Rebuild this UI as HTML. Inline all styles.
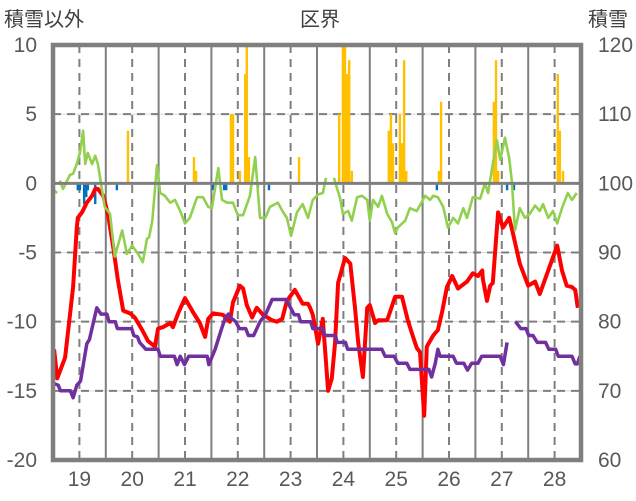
<!DOCTYPE html>
<html><head><meta charset="utf-8"><style>
html,body{margin:0;padding:0;background:#fff;}
svg{display:block;font-family:"Liberation Sans","Noto Sans CJK JP",sans-serif;}
</style></head><body>
<svg id="chart" width="636" height="501" viewBox="0 0 636 501">
<text x="4" y="26" font-size="20" fill="#404040">積雪以外</text>
<text x="320" y="26" font-size="20" fill="#404040" text-anchor="middle">区界</text>
<text x="588" y="26" font-size="20" fill="#404040">積雪</text>
<g id="grid"></g><g id="bars"></g><g id="lines"></g><g id="axes"></g>
</svg>
<script>
const leftTicks=[10,5,0,-5,-10,-15,-20];
const rightTicks=[120,110,100,90,80,70,60];
const yearLabels=["19","20","21","22","23","24","25","26","27","28"];
const yearCenters=[19,20,21,22,23,24,25,26,27,28];
const orangeT=[19.92,21.17,21.21,21.87,21.91,22.04,22.14,22.17,22.21,23.16,23.92,23.99,24.03,24.07,24.11,24.16,24.86,24.9,24.94,25.07,25.11,25.15,25.19,25.81,25.85,26.85,26.89,26.93,28.06,28.10,28.16];
const orangeV=[3.8,1.9,0.9,5.0,5.0,0.9,7.9,9.9,1.9,1.9,5.0,9.9,9.9,7.9,8.9,0.9,3.8,5.0,2.9,5.0,2.9,8.9,0.9,0.9,5.9,5.9,8.9,0.9,7.9,3.8,0.9];
const blueT=[18.97,19.01,19.09,19.13,19.16,19.30,19.71,21.53,21.74,21.78,22.38,22.59,25.77,27.1,27.23];
const blueV=[-0.5,-0.5,-1.5,-1.0,-0.5,-1.5,-0.5,-0.5,-0.5,-0.5,-0.5,-0.5,-0.5,-0.5,-0.5];
const redT=[18.52,18.58,18.73,18.88,18.95,18.97,19.05,19.14,19.24,19.30,19.35,19.45,19.54,19.64,19.73,19.83,19.96,20.05,20.19,20.30,20.43,20.49,20.58,20.72,20.77,20.87,21.00,21.15,21.28,21.38,21.44,21.53,21.72,21.85,21.91,22.04,22.10,22.17,22.27,22.36,22.48,22.65,22.74,22.84,22.93,23.08,23.23,23.33,23.37,23.42,23.52,23.61,23.71,23.78,23.84,23.90,24.03,24.13,24.22,24.28,24.37,24.45,24.50,24.60,24.66,24.83,24.98,25.11,25.22,25.32,25.39,25.45,25.53,25.58,25.70,25.79,25.87,25.96,26.06,26.17,26.34,26.45,26.55,26.63,26.64,26.72,26.78,26.83,26.93,27.02,27.14,27.21,27.34,27.50,27.63,27.72,27.86,28.05,28.14,28.23,28.33,28.39,28.44];
const redV=[-12.0,-14.1,-12.6,-7.5,-3.2,-2.5,-2.1,-1.4,-0.9,-0.4,-0.4,-0.9,-2.2,-4.6,-7.0,-9.2,-9.4,-9.7,-10.6,-11.4,-11.8,-10.5,-10.4,-10.1,-10.4,-9.4,-8.3,-9.3,-10.1,-11.1,-9.8,-9.4,-9.5,-10.0,-8.6,-7.4,-7.6,-8.8,-9.7,-9.0,-9.5,-9.9,-10.0,-9.8,-8.5,-7.7,-8.7,-8.7,-9.0,-9.5,-11.6,-9.8,-15.0,-14.1,-11.6,-7.2,-5.4,-5.8,-9.0,-11.5,-14.0,-9.0,-8.8,-10.1,-9.9,-9.9,-8.2,-8.2,-9.9,-11.1,-11.9,-12.2,-16.8,-11.8,-11.0,-10.6,-9.3,-7.5,-6.7,-7.6,-7.1,-6.5,-6.7,-6.3,-6.9,-8.5,-7.4,-7.2,-2.1,-3.2,-2.5,-3.6,-5.8,-7.4,-7.1,-8.0,-6.5,-4.5,-6.3,-7.4,-7.5,-7.7,-9.0];
const purpleT=[18.51,18.6,18.64,18.83,18.88,18.95,19.02,19.14,19.19,19.33,19.41,19.52,19.56,19.68,19.72,19.99,20.03,20.1,20.14,20.26,20.49,20.53,20.8,20.85,20.91,20.99,21.07,21.42,21.45,21.57,21.69,21.76,21.82,21.88,21.96,22.03,22.15,22.2,22.3,22.42,22.53,22.65,22.92,23.0,23.07,23.15,23.19,23.38,23.42,23.61,23.65,23.85,23.88,24.04,24.08,24.73,24.79,24.96,25.03,25.2,25.26,25.62,25.67,25.74,25.79,25.83,26.08,26.14,26.28,26.35,26.43,26.55,26.62,26.97,27.03,27.1,27.18,27.26,27.36,27.46,27.51,27.59,27.67,27.83,27.89,28.02,28.07,28.33,28.39,28.43,28.48];
const purpleV=[-14.46,-14.6,-15,-15,-15.5,-14.6,-14.3,-11.6,-11.3,-9.0,-9.45,-9.45,-10,-10,-10.5,-10.5,-11,-11.1,-11.5,-12,-12,-12.5,-12.5,-13.1,-12.5,-13.1,-12.5,-12.5,-13.1,-12,-10.55,-9.76,-9.45,-9.76,-10,-10.5,-10.5,-11,-11,-10,-9.45,-8.4,-8.4,-9.0,-9.5,-9.5,-10,-10,-10.5,-10.5,-11,-11,-11.5,-11.5,-12,-12,-12.5,-12.5,-13,-13,-13.45,-13.45,-14,-13,-12,-12.5,-12.5,-13,-13,-13.5,-13,-13,-12.5,-12.5,-13.1,-11.5,null,-10,-10.5,-10.5,-11,-11,-11.5,-11.5,-12,-12,-12.5,-12.5,-13.05,-13.05,-12.5];
const greenT=[18.52,18.58,18.6,18.63,18.69,18.82,18.88,18.95,19.01,19.07,19.11,19.16,19.24,19.30,19.35,19.43,19.48,19.58,19.67,19.81,19.9,20.0,20.11,20.2,20.28,20.32,20.38,20.47,20.53,20.62,20.72,20.81,20.91,21.0,21.09,21.23,21.34,21.44,21.51,21.63,21.7,21.8,21.91,22.0,22.1,22.23,22.33,22.42,22.52,22.61,22.76,22.86,22.93,23.01,23.12,23.23,23.33,23.42,23.52,23.61,23.67,23.75,23.82,23.94,23.99,24.09,24.16,24.26,24.35,24.45,24.5,24.56,24.66,24.73,24.83,24.92,24.98,25.03,25.17,25.26,25.39,25.55,25.64,25.7,25.79,25.89,25.98,26.08,26.17,26.27,26.34,26.45,26.59,26.68,26.74,26.83,26.91,26.97,27.06,27.14,27.19,27.25,27.34,27.44,27.53,27.63,27.72,27.78,27.88,27.97,28.05,28.14,28.25,28.33,28.42];
const greenV=[-0.5,-0.7,null,0.2,-0.4,0.6,0.7,1.4,2.2,3.8,1.4,2.2,1.4,2.0,1.4,-0.5,-1.7,-2.2,-5.3,-3.4,-5.1,-4.5,-5.1,-5.7,-4.0,-3.9,-2.7,1.3,-0.7,-0.9,-1.4,-1.2,-2.0,-2.9,-2.5,-1.0,-1.0,-1.7,-1.8,1.1,-1.2,-1.4,-1.4,-2.3,-2.3,-0.9,1.9,-2.5,-2.5,-1.7,-1.4,-2.1,-2.5,-3.8,-2.1,-1.5,-2.5,-1.2,-0.8,-0.7,0.4,null,0.4,-1.1,-2.2,-2.0,-2.7,-1.0,-0.9,-1.2,-2.7,-1.2,-1.7,-0.9,-2.2,-2.8,-3.6,-3.2,-2.7,-1.8,-2.0,-0.9,-1.2,-0.9,-1.0,-1.7,-3.2,-2.5,-2.9,-1.8,-2.5,-1.0,-1.1,0,-0.7,1.4,3.1,1.7,3.3,1.8,0.2,-3.4,-1.8,-2.5,-2.2,-1.6,-2.0,-1.5,-2.5,-2.0,-2.9,-1.8,-0.7,-1.2,-0.7];

const NS="http://www.w3.org/2000/svg";
const X0=53,X1=581,Y0=45,Y1=460,T0=18.5,T1=28.5,VMIN=-20,VMAX=10;
function xS(t){return X0+(t-T0)/(T1-T0)*(X1-X0);}
function yS(v){return Y1-(v-VMIN)/(VMAX-VMIN)*(Y1-Y0);}
function mk(tag,attrs,parent){const e=document.createElementNS(NS,tag);for(const k in attrs)e.setAttribute(k,attrs[k]);parent.appendChild(e);return e;}
const grid=document.getElementById('grid'),bars=document.getElementById('bars'),lines=document.getElementById('lines'),axes=document.getElementById('axes');

leftTicks.forEach((v,i)=>{
  const y=yS(v);
  if(v!==0&&v!==10&&v!==-20){
    const g=mk('line',{x1:X0,x2:X1,y1:y,y2:y,stroke:'#d9d9d9','stroke-width':1},grid);
    
    
    const d=mk('line',{x1:X0,x2:X1,y1:y,y2:y,stroke:'#7f7f7f','stroke-width':2,'stroke-dasharray':'8,6'},grid);
    
    
  }
  const t=mk('text',{x:37,y:y+7,'font-size':21,fill:'#595959','text-anchor':'end'},axes);
  t.textContent=String(v);
  
  
  const r=mk('text',{x:598,y:y+7,'font-size':21,fill:'#595959'},axes);
  r.textContent=String(rightTicks[i]);
  
  
});
yearCenters.forEach((c,i)=>{
  const x=xS(c);
  const d=mk('line',{x1:x,x2:x,y1:Y0,y2:Y1,stroke:'#7f7f7f','stroke-width':2,'stroke-dasharray':'8,6'},grid);
  
  
  if(c+0.5<T1){
    const xb=xS(c+0.5);
    const s=mk('line',{x1:xb,x2:xb,y1:Y0,y2:Y1,stroke:'#7f7f7f','stroke-width':2},grid);
    
    
  }
  const t=mk('text',{x:x,y:486,'font-size':21,fill:'#595959','text-anchor':'middle'},axes);
  t.textContent=yearLabels[i];
  
  
});
orangeT.forEach((t,i)=>{
  const y=yS(orangeV[i]);
  const b=mk('rect',{x:xS(t)-1.2,y:y,width:2.4,height:yS(0)-y,fill:'#ffc000'},bars);
  
  
});
blueT.forEach((t,i)=>{
  const y=yS(blueV[i]);
  const b=mk('rect',{x:xS(t)-1.2,y:yS(0),width:2.4,height:y-yS(0),fill:'#0070c0'},bars);
  
  
});
function path(T,V){let d='',pen=false;T.forEach((t,i)=>{if(V[i]===null){pen=false;return;}d+=(pen?'L':'M')+xS(t).toFixed(1)+' '+yS(V[i]).toFixed(1);pen=true;});return d;}
const red=mk('path',{d:path(redT,redV),fill:'none',stroke:'#ff0000','stroke-width':4,'stroke-linejoin':'round'},lines);


const pur=mk('path',{d:path(purpleT,purpleV),fill:'none',stroke:'#7030a0','stroke-width':3.5,'stroke-linejoin':'round'},lines);


const gr=mk('path',{d:path(greenT,greenV),fill:'none',stroke:'#92d050','stroke-width':2.6,'stroke-linejoin':'round'},lines);


const z=mk('line',{x1:X0,x2:X1,y1:yS(0),y2:yS(0),stroke:'#7f7f7f','stroke-width':3},axes);


const fr=mk('rect',{x:X0,y:Y0,width:X1-X0,height:Y1-Y0,fill:'none',stroke:'#7f7f7f','stroke-width':4.5},axes);


</script>
</body></html>
